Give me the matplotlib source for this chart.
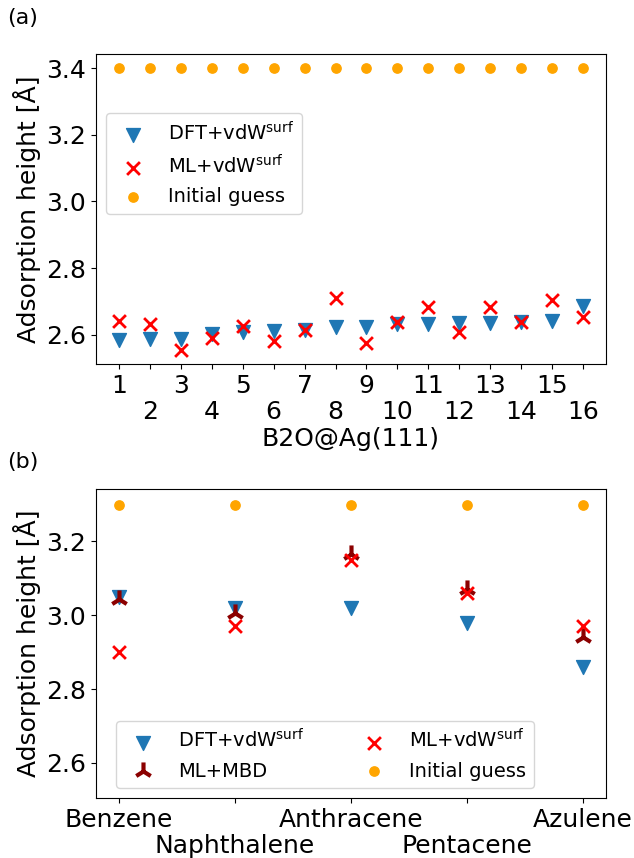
import numpy as np
import matplotlib
matplotlib.use("Agg")
import matplotlib.pyplot as plt

# adsorption heights of B2O on Ag(111), 16 configurations
b2o_ids = np.arange(1, 17)
b2o_dft = [2.585, 2.587, 2.588, 2.603, 2.608, 2.613, 2.615, 2.623,
           2.625, 2.633, 2.633, 2.635, 2.636, 2.638, 2.643, 2.686]
b2o_ml = [2.641, 2.633, 2.555, 2.591, 2.626, 2.583, 2.615, 2.710,
          2.575, 2.640, 2.683, 2.608, 2.683, 2.638, 2.704, 2.653]
b2o_guess = [3.4] * 16

# aromatic molecules on Ag(111)
molecules = ['Benzene', 'Naphthalene', 'Anthracene', 'Pentacene', 'Azulene']
mol_dft = [3.05, 3.02, 3.02, 2.98, 2.86]
mol_ml = [2.90, 2.97, 3.15, 3.06, 2.97]
mol_mbd = [3.045, 3.005, 3.167, 3.07, 2.94]
mol_guess = [3.3] * 5

plt.rcParams['font.size'] = 18

fig = plt.figure(figsize=(6.34, 8.58), dpi=100)
ax1 = fig.add_axes([0.1514, 0.5758, 0.8044, 0.3613])
ax2 = fig.add_axes([0.1514, 0.0699, 0.8044, 0.3601])


def stagger_ticks(ax, labels):
    # every second label goes one row lower so the long ones don't collide
    ax.set_xticklabels(labels)
    for i, t in enumerate(ax.xaxis.get_major_ticks()):
        if i % 2 == 1:
            t.set_pad(22.5)


# (a) B2O@Ag(111)
ax1.scatter(b2o_ids, b2o_dft, marker='v', s=100, color='#1f77b4', label=r'DFT+vdW$^{\mathrm{surf}}$')
ax1.scatter(b2o_ids, b2o_ml, marker='x', s=85, linewidths=2, color='red', label=r'ML+vdW$^{\mathrm{surf}}$')
ax1.scatter(b2o_ids, b2o_guess, marker='o', s=45, color='orange', label='Initial guess')
ax1.set_xticks(b2o_ids)
stagger_ticks(ax1, [str(i) for i in b2o_ids])
ax1.set_yticks([2.6, 2.8, 3.0, 3.2, 3.4])
ax1.set_xlabel('B2O@Ag(111)', labelpad=2)
ax1.set_ylabel('Adsorption height [Å]')
ax1.legend(loc='upper left', bbox_to_anchor=(0.0, 0.84), fontsize=14)

# (b) aromatic molecules
xm = np.arange(len(molecules))
ax2.scatter(xm, mol_dft, marker='v', s=100, color='#1f77b4', label=r'DFT+vdW$^{\mathrm{surf}}$')
ax2.scatter(xm, mol_mbd, marker='2', s=170, linewidths=3, color='darkred', label='ML+MBD')
ax2.scatter(xm, mol_ml, marker='x', s=85, linewidths=2, color='red', label=r'ML+vdW$^{\mathrm{surf}}$')
ax2.scatter(xm, mol_guess, marker='o', s=45, color='orange', label='Initial guess')
ax2.set_xticks(xm)
stagger_ticks(ax2, molecules)
ax2.set_yticks([2.6, 2.8, 3.0, 3.2])
ax2.set_ylim(2.505, 3.342)
ax2.set_ylabel('Adsorption height [Å]')
ax2.legend(loc='lower left', bbox_to_anchor=(0.02, 0.0), ncol=2, fontsize=14, columnspacing=2.6)

fig.text(0.012, 0.979, '(a)', fontsize=16, va='center')
fig.text(0.012, 0.461, '(b)', fontsize=16, va='center')

plt.savefig('out.png', dpi=100)
